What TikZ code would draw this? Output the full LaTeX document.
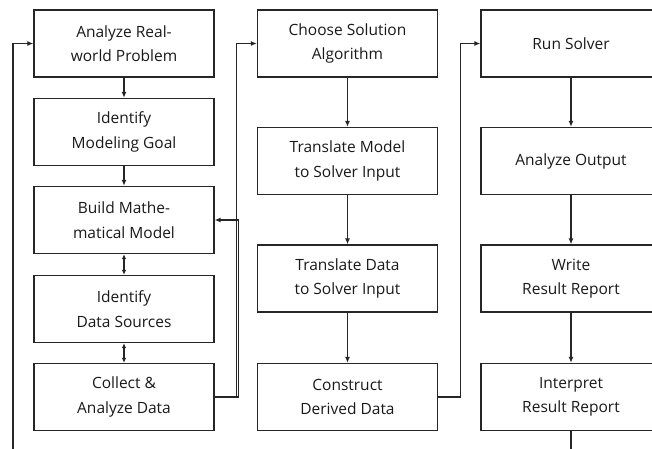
\documentclass[tikz,border=0pt]{standalone}
\usepackage{fontspec}
\setmainfont{Open Sans}
\usetikzlibrary{arrows.meta}
\begin{document}
\begin{tikzpicture}[x=1pt,y=-1pt,
  box/.style={draw=black!85, line width=1.3pt, minimum width=180pt, minimum height=67pt,
    align=center, inner sep=0pt, text=black!90, font=\fontsize{15.5}{24.5}\selectfont},
  conn/.style={draw=black!85, line width=1.3pt},
  arr/.style={conn, -{Latex[length=6pt,width=5pt]}},
  darr/.style={conn, {Latex[length=5pt,width=4.5pt]}-{Latex[length=5pt,width=4.5pt]}}]
\useasboundingbox (0,0) rectangle (652,448);
% column 1
\node[box] (a1) at (124,43.5) {Analyze Real-\\world Problem};
\node[box] (a2) at (124,132) {Identify\\Modeling Goal};
\node[box] (a3) at (124,220) {Build Mathe-\\matical Model};
\node[box] (a4) at (124,309) {Identify\\Data Sources};
\node[box] (a5) at (124,397) {Collect \&\\Analyze Data};
% column 2
\node[box] (b1) at (347.5,43.5) {Choose Solution\\Algorithm};
\node[box] (b2) at (347.5,161) {Translate Model\\to Solver Input};
\node[box] (b3) at (347.5,278.5) {Translate Data\\to Solver Input};
\node[box] (b4) at (347.5,397) {Construct\\Derived Data};
% column 3
\node[box] (c1) at (571,43.5) {Run Solver};
\node[box] (c2) at (571,161) {Analyze Output};
\node[box] (c3) at (571,278.5) {Write\\Result Report};
\node[box] (c4) at (571,397) {Interpret\\Result Report};
% connectors
\draw[arr] (a1) -- (a2);
\draw[arr] (a2) -- (a3);
\draw[darr] (a3) -- (a4);
\draw[darr] (a4) -- (a5);
\draw[arr] (b1) -- (b2);
\draw[arr] (b2) -- (b3);
\draw[arr] (b3) -- (b4);
\draw[arr] (c1) -- (c2);
\draw[arr] (c2) -- (c3);
\draw[arr] (c3) -- (c4);
\coordinate (lb) at (13,470);
\draw[arr] (lb) |- (a1.west);
\draw[arr] (a5.east) -- ++(21.5,0) |- (b1.west);
\draw[arr] (a5.east) -- ++(23.5,0) |- (a3.east);
\draw[arr] (b4.east) -- ++(22,0) |- (c1.west);
\coordinate (cb) at (571,470);
\draw[conn] (c4.south) -- (cb);
\end{tikzpicture}
\end{document}
